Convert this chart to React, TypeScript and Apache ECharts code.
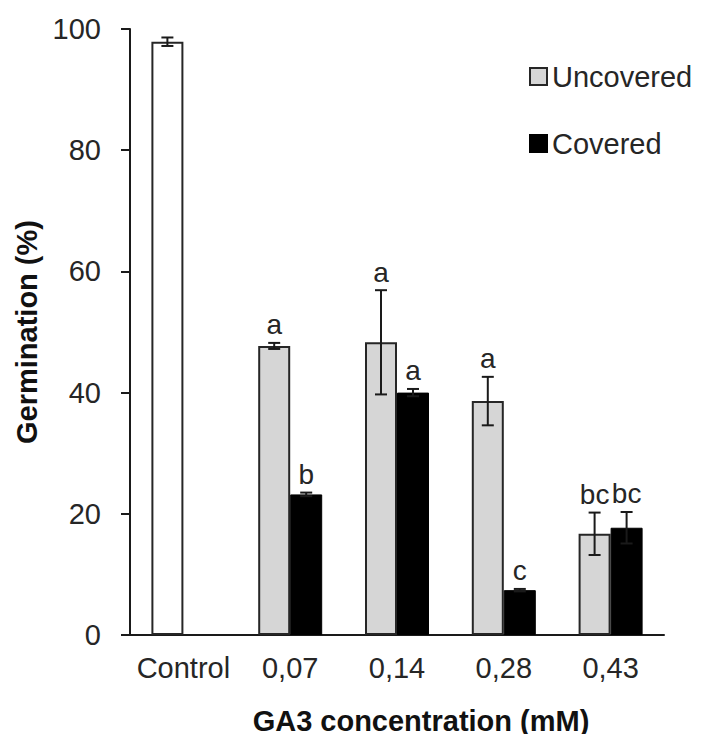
import React, { useEffect, useRef } from "react";
import * as echarts from "echarts";

const categories = ["Control", "0,07", "0,14", "0,28", "0,43"];
const uncovered = [97.9, 47.7, 48.3, 38.6, 16.7];
const uncoveredErr = [0.7, 0.5, 8.6, 4.0, 3.5];
const uncoveredLetters = ["", "a", "a", "a", "bc"];
const covered: (number | null)[] = [null, 23.2, 40.0, 7.4, 17.7];
const coveredErr: (number | null)[] = [null, 0.3, 0.6, 0.2, 2.6];
const coveredLetters = ["", "b", "a", "c", "bc"];
const yTicks = [0, 20, 40, 60, 80, 100];

const FONT = "'Liberation Sans', Arial, sans-serif";
const TXT = "#262626";
const BAR_W = 32;

function errorRenderer(offset: number, letters: string[]) {
  return (params: any, api: any) => {
    const i = api.value(0);
    const v = api.value(1);
    const e = api.value(2);
    const c = api.coord([i, v]);
    const x = c[0] + offset;
    const top = api.coord([i, v + e])[1];
    const bot = api.coord([i, v - e])[1];
    const ls = { stroke: "#1a1a1a", lineWidth: 2 };
    return {
      type: "group",
      children: [
        { type: "line", shape: { x1: x, y1: top, x2: x, y2: bot }, style: ls },
        { type: "line", shape: { x1: x - 6, y1: top, x2: x + 6, y2: top }, style: ls },
        { type: "line", shape: { x1: x - 6, y1: bot, x2: x + 6, y2: bot }, style: ls },
        {
          type: "text",
          x: x,
          y: top - 4,
          style: {
            text: letters[i],
            fill: TXT,
            font: `28px ${FONT}`,
            align: "center",
            verticalAlign: "bottom",
          },
        },
      ],
    };
  };
}

export default function App() {
  const ref = useRef<HTMLDivElement>(null);
  useEffect(() => {
    if (!ref.current) return;
    const chart = echarts.init(ref.current, null, { renderer: "svg" });
    const uncData = uncovered.map((v, i) =>
      i === 0
        ? { value: v, itemStyle: { color: "#ffffff" } }
        : { value: v }
    );
    const uncErrData = uncovered.map((v, i) => [i, v, uncoveredErr[i]]);
    const covErrData = covered
      .map((v, i) => (v == null ? null : [i, v, coveredErr[i] as number]))
      .filter((d) => d != null);
    chart.setOption({
      animation: false,
      grid: { left: 130, right: 40, top: 29, bottom: 107 },
      legend: {
        data: ["Uncovered", "Covered"],
        orient: "vertical",
        left: 524,
        top: 57,
        itemWidth: 17,
        itemHeight: 17,
        itemGap: 38,
        icon: "rect",
        textStyle: { fontSize: 29, color: TXT, fontFamily: FONT },
      },
      xAxis: {
        type: "category",
        data: categories,
        axisLine: { lineStyle: { color: "#1a1a1a", width: 2 } },
        axisTick: { length: 6, lineStyle: { color: "#1a1a1a", width: 2 } },
        axisLabel: { interval: 0, fontSize: 29, color: TXT, fontFamily: FONT, margin: 18 },
        name: "GA3 concentration (mM)",
        nameLocation: "middle",
        nameGap: 71,
        nameTextStyle: {
          fontSize: 29,
          fontWeight: "bold",
          color: "#111",
          fontFamily: FONT,
          padding: [0, 0, 0, 48],
        },
      },
      yAxis: {
        type: "value",
        min: 0,
        max: 100,
        interval: 20,
        splitLine: { show: false },
        axisLine: { show: true, lineStyle: { color: "#1a1a1a", width: 2 } },
        axisTick: { show: true, length: 9, lineStyle: { color: "#1a1a1a", width: 2 } },
        axisLabel: {
          fontSize: 29,
          color: TXT,
          fontFamily: FONT,
          margin: 29,
          formatter: (v: number) => (yTicks.includes(v) ? String(v) : ""),
        },
        name: "Germination (%)",
        nameLocation: "middle",
        nameGap: 84,
        nameTextStyle: {
          fontSize: 29,
          fontWeight: "bold",
          color: "#111",
          fontFamily: FONT,
          padding: [0, 0, 0, 0],
        },
      },
      series: [
        {
          name: "Uncovered",
          type: "bar",
          data: uncData,
          barWidth: BAR_W,
          barGap: "0%",
          itemStyle: { color: "#d6d6d6", borderColor: "#262626", borderWidth: 2 },
        },
        {
          name: "Covered",
          type: "bar",
          data: covered,
          barWidth: BAR_W,
          barGap: "0%",
          itemStyle: { color: "#000000", borderColor: "#000000", borderWidth: 1 },
        },
        {
          name: "errU",
          type: "custom",
          z: 5,
          data: uncErrData,
          renderItem: errorRenderer(-BAR_W / 2, uncoveredLetters),
        },
        {
          name: "errC",
          type: "custom",
          z: 5,
          data: covErrData,
          renderItem: errorRenderer(BAR_W / 2, coveredLetters),
        },
      ],
    });
    return () => chart.dispose();
  }, []);
  return <div ref={ref} style={{ width: 704, height: 742, margin: -8 }} />;
}
